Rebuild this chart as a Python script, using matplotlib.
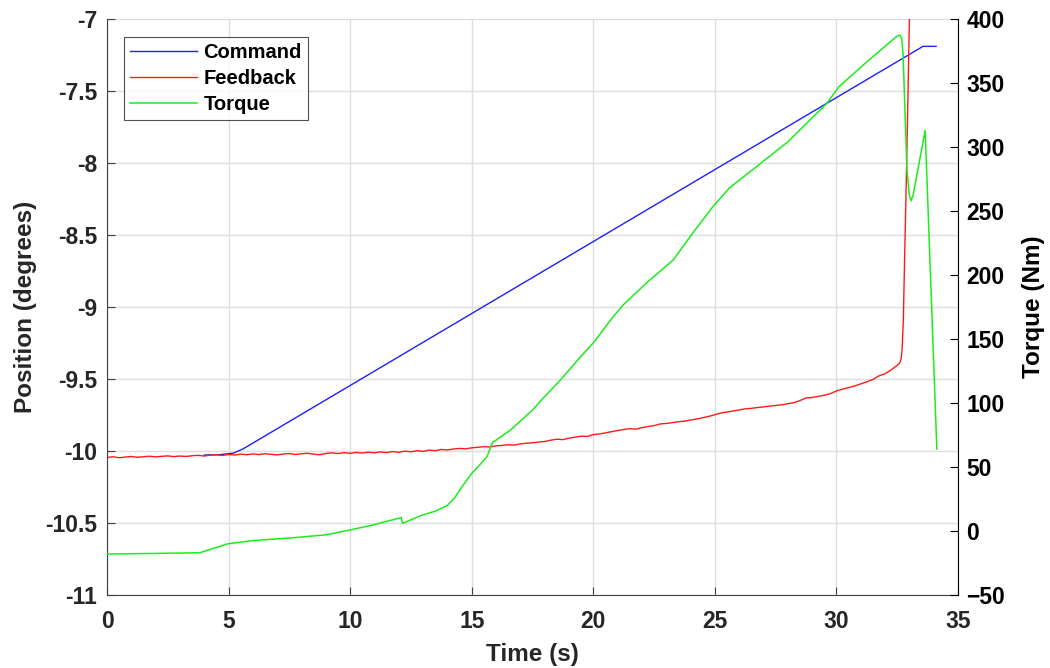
import matplotlib
matplotlib.use("Agg")
import matplotlib.pyplot as plt

# Commanded position (degrees)
cmd_t = [4.0, 4.6, 5.2, 5.6, 33.56, 34.1]
cmd_pos = [-10.028, -10.026, -10.015, -9.985, -7.19, -7.19]

# Measured position feedback (degrees), sampled every 0.25 s until the slip
fb_t = [0.0, 0.25, 0.5, 0.75, 1.0, 1.25, 1.5, 1.75, 2.0, 2.25, 2.5, 2.75,
        3.0, 3.25, 3.5, 3.75, 4.0, 4.25, 4.5, 4.75, 5.0, 5.25, 5.5, 5.75,
        6.0, 6.25, 6.5, 6.75, 7.0, 7.25, 7.5, 7.75, 8.0, 8.25, 8.5, 8.75,
        9.0, 9.25, 9.5, 9.75, 10.0, 10.25, 10.5, 10.75, 11.0, 11.25, 11.5,
        11.75, 12.0, 12.25, 12.5, 12.75, 13.0, 13.25, 13.5, 13.75, 14.0,
        14.25, 14.5, 14.75, 15.0, 15.25, 15.5, 15.75, 16.0, 16.25, 16.5,
        16.75, 17.0, 17.25, 17.5, 17.75, 18.0, 18.25, 18.5, 18.75, 19.0,
        19.25, 19.5, 19.75, 20.0, 20.25, 20.5, 20.75, 21.0, 21.25, 21.5,
        21.75, 22.0, 22.25, 22.5, 22.75, 23.0, 23.25, 23.5, 23.75, 24.0,
        24.25, 24.5, 24.75, 25.0, 25.25, 25.5, 25.75, 26.0, 26.25, 26.5,
        26.75, 27.0, 27.25, 27.5, 27.75, 28.0, 28.25, 28.5, 28.75, 29.0,
        29.25, 29.5, 29.75, 30.0, 30.25, 30.5, 30.75, 31.0, 31.25, 31.5,
        31.75, 32.0, 32.25, 32.5, 32.6, 32.66, 32.7, 32.75, 32.8, 32.85,
        32.9, 32.95, 33.0, 33.05]
fb_pos = [-10.045, -10.040, -10.047, -10.042, -10.038, -10.044, -10.040,
          -10.036, -10.041, -10.037, -10.034, -10.039, -10.035, -10.038,
          -10.033, -10.030, -10.035, -10.029, -10.026, -10.031, -10.024,
          -10.028, -10.022, -10.026, -10.020, -10.025, -10.019, -10.023,
          -10.027, -10.021, -10.018, -10.024, -10.019, -10.016, -10.022,
          -10.026, -10.017, -10.013, -10.018, -10.012, -10.016, -10.010,
          -10.014, -10.008, -10.013, -10.006, -10.011, -10.004, -10.009,
          -10.001, -10.005, -9.998, -10.003, -9.994, -9.998, -9.989, -9.993,
          -9.986, -9.982, -9.985, -9.978, -9.974, -9.970, -9.972, -9.964,
          -9.961, -9.957, -9.959, -9.951, -9.946, -9.943, -9.938, -9.934,
          -9.925, -9.918, -9.921, -9.911, -9.904, -9.897, -9.899, -9.886,
          -9.882, -9.874, -9.866, -9.858, -9.851, -9.845, -9.848, -9.838,
          -9.830, -9.824, -9.812, -9.809, -9.803, -9.797, -9.793, -9.785,
          -9.778, -9.769, -9.760, -9.748, -9.736, -9.729, -9.722, -9.715,
          -9.707, -9.704, -9.698, -9.694, -9.688, -9.684, -9.679, -9.672,
          -9.664, -9.650, -9.632, -9.628, -9.621, -9.613, -9.602, -9.583,
          -9.571, -9.560, -9.548, -9.534, -9.520, -9.503, -9.478, -9.463,
          -9.437, -9.405, -9.390, -9.360, -9.300, -9.100, -8.700, -8.300,
          -7.900, -7.450, -7.000, -6.600]

# Motor torque (Nm)
tq_t = [0.0, 2.0, 3.82, 4.3, 4.97, 6.0, 7.5, 9.0, 10.0, 11.0, 12.1, 12.16,
        12.97, 13.5, 14.0, 14.3, 14.6, 15.0, 15.3, 15.63, 15.75, 15.85, 16.6,
        17.5, 17.95, 18.65, 19.47, 20.0, 20.8, 21.25, 22.2, 23.3, 24.1, 24.9,
        25.6, 26.2, 27.2, 28.0, 28.8, 29.6, 30.1, 31.1, 32.2, 32.45, 32.6,
        32.68, 32.74, 32.9, 33.0, 33.07, 33.15, 33.65, 34.13]
tq_val = [-18, -17.5, -17, -14, -10, -7.5, -5.5, -3, 0.8, 5, 10.5, 6, 12.5,
          15.5, 20, 26, 34.6, 45, 51, 58, 64, 69, 79, 94.5, 104, 118, 136,
          147, 167, 177, 194, 212, 233, 253, 268, 277, 292, 304, 319, 334,
          347, 364, 382, 386, 387.5, 385, 373, 282, 262, 258, 262, 313, 64]

x_ticks = [0, 5, 10, 15, 20, 25, 30, 35]
pos_ticks = [-11, -10.5, -10, -9.5, -9, -8.5, -8, -7.5, -7]
pos_tick_labels = ["-11", "-10.5", "-10", "-9.5", "-9", "-8.5", "-8", "-7.5", "-7"]
tq_ticks = [-50, 0, 50, 100, 150, 200, 250, 300, 350, 400]

plt.rcParams["font.family"] = ["Liberation Sans", "DejaVu Sans"]
plt.rcParams["font.weight"] = "bold"
plt.rcParams["axes.labelweight"] = "bold"

text_col = "#262626"
fig = plt.figure(figsize=(10.5, 6.68), dpi=100)
ax = fig.add_subplot(111)
fig.subplots_adjust(left=107 / 1050, right=958 / 1050,
                    top=1 - 19 / 668, bottom=1 - 595 / 668)
ax2 = ax.twinx()

l1, = ax.plot(cmd_t, cmd_pos, color="#1f1fff", lw=1.0, label="Command")
l2, = ax.plot(fb_t, fb_pos, color="#ff1a1a", lw=1.0, label="Feedback")
l3, = ax2.plot(tq_t, tq_val, color="#1aee1a", lw=1.1, label="Torque")

ax.set_xlim(0, 35)
ax.set_ylim(-11, -7)
ax2.set_ylim(-50, 400)
ax.set_xticks(x_ticks)
ax.set_yticks(pos_ticks)
ax.set_yticklabels(pos_tick_labels)
ax2.set_yticks(tq_ticks)

ax.grid(True, color="#dedede", lw=1.0)
ax.set_axisbelow(True)

for a in (ax, ax2):
    a.spines["top"].set_visible(False)
ax.spines["left"].set_color("#404040")
ax.spines["bottom"].set_color("#404040")
ax.spines["right"].set_visible(False)
ax2.spines["left"].set_visible(False)
ax2.spines["bottom"].set_visible(False)
ax2.spines["right"].set_color("black")

ax.tick_params(axis="y", direction="in", length=6, labelsize=16.5,
               labelcolor=text_col, color="#404040", pad=7)
ax.tick_params(axis="x", direction="in", length=6, labelsize=16.5,
               labelcolor=text_col, color="#404040", pad=11)
ax2.tick_params(axis="y", direction="in", length=6, labelsize=16.5,
                labelcolor="black", color="black", pad=6)
for lab in ax.get_xticklabels() + ax.get_yticklabels() + ax2.get_yticklabels():
    lab.set_fontweight("bold")

ax.set_xlabel("Time (s)", fontsize=17.5, color=text_col, labelpad=7)
ax.set_ylabel("Position (degrees)", fontsize=17.5, color=text_col, labelpad=6)
ax2.set_ylabel("Torque (Nm)", fontsize=17.5, color="black", labelpad=12,
               rotation=90)

leg = ax2.legend(handles=[l1, l2, l3], loc="upper left",
                 bbox_to_anchor=(0.02, 0.969), fontsize=14.5, frameon=True,
                 fancybox=False, edgecolor="#262626", handlelength=3.3,
                 handletextpad=0.35, borderpad=0.3, labelspacing=0.36,
                 borderaxespad=0)
leg.get_frame().set_linewidth(0.8)
for t in leg.get_texts():
    t.set_fontweight("bold")
    t.set_color("black")

fig.savefig("out.png", dpi=100)
